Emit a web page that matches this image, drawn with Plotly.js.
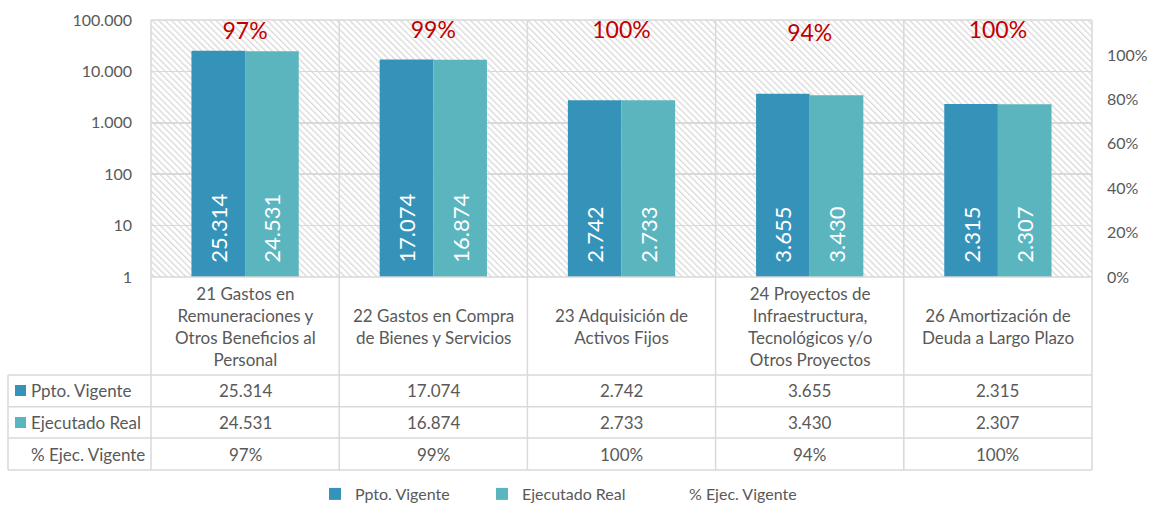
<!DOCTYPE html>
<html><head><meta charset="utf-8">
<script src="https://cdn.plot.ly/plotly-3.0.1.min.js"></script>
<style>html,body{margin:0;padding:0;background:#fff}#chart{width:1151px;height:506px}</style>
</head><body><div id="chart"></div>
<script>
// ---- data ----
const categories = [
  "21 Gastos en<br>Remuneraciones y<br>Otros Beneficios al<br>Personal",
  "22 Gastos en Compra<br>de Bienes y Servicios",
  "23 Adquisición de<br>Activos Fijos",
  "24 Proyectos de<br>Infraestructura,<br>Tecnológicos y/o<br>Otros Proyectos",
  "26 Amortización de<br>Deuda a Largo Plazo"
];
const pptoVigente   = [25314, 17074, 2742, 3655, 2315];
const ejecutadoReal = [24531, 16874, 2733, 3430, 2307];
const pctEjec       = [0.97, 0.99, 1.00, 0.94, 1.00];
const seriesNames   = ["Ppto. Vigente", "Ejecutado Real", "% Ejec. Vigente"];
const logTickVals   = [1, 10, 100, 1000, 10000, 100000];
const pctTickVals   = [0, 0.2, 0.4, 0.6, 0.8, 1.0];

// ---- style ----
const C1 = '#3593ba', C2 = '#5ab5bf', GRID = '#d9d9d9', TXT = '#595959', RED = '#c00000';
const FONT = 'Lato, "Open Sans", sans-serif';
const W = 1151, H = 506, ML = 151, MR = 59, MT = 20, MB = 229;
const PW = W - ML - MR, PH = H - MT - MB;
const py = p => (H - MB - p) / PH;   // pixel y -> paper y
const px = p => (p - ML) / PW;       // pixel x -> paper x

function fmt(v) { return String(v).replace(/\B(?=(\d{3})+(?!\d))/g, '.'); }
function pctFmt(v) { return Math.round(v * 100) + '%'; }
const pad = '\u00a0\u00a0';

const xIdx = categories.map((_, i) => i);

const traces = [
  { type: 'bar', name: seriesNames[0], x: xIdx, y: pptoVigente,
    marker: { color: C1, line: { width: 0 } },
    text: pptoVigente.map(v => pad + fmt(v)), textposition: 'inside', insidetextanchor: 'start',
    textangle: -90, insidetextfont: { color: '#ffffff', size: 22, family: FONT }, hoverinfo: 'skip' },
  { type: 'bar', name: seriesNames[1], x: xIdx, y: ejecutadoReal,
    marker: { color: C2, line: { width: 0 } },
    text: ejecutadoReal.map(v => pad + fmt(v)), textposition: 'inside', insidetextanchor: 'start',
    textangle: -90, insidetextfont: { color: '#ffffff', size: 22, family: FONT }, hoverinfo: 'skip' },
  { type: 'scatter', mode: 'lines', name: seriesNames[2], x: xIdx, y: pctEjec, yaxis: 'y3',
    line: { color: 'rgba(0,0,0,0)', width: 2 }, hoverinfo: 'skip' },
  { type: 'scatter', mode: 'text', showlegend: false, x: xIdx, y: pctEjec, yaxis: 'y3',
    text: pctEjec.map(pctFmt), textposition: 'middle center',
    textfont: { color: RED, size: 23, family: FONT }, cliponaxis: false, hoverinfo: 'skip' },
  { type: 'scatter', mode: 'none', x: [0], y: [0], yaxis: 'y2', showlegend: false, hoverinfo: 'skip' }
];

// ---- table / frame shapes ----
const line = { color: GRID, width: 1.5 };
const shapes = [];
shapes.push({ type: 'line', xref: 'paper', yref: 'paper', x0: 0, x1: 1, y0: 1, y1: 1, line, layer: 'above' });
shapes.push({ type: 'line', xref: 'paper', yref: 'paper', x0: 0, x1: 1, y0: 0, y1: 0, line, layer: 'above' });
for (let i = 0; i <= categories.length; i++) {
  const xp = i / categories.length;
  shapes.push({ type: 'line', xref: 'paper', yref: 'paper', x0: xp, x1: xp, y0: py(470), y1: 1, line, layer: 'above' });
}
[375, 406.7, 438, 470].forEach(p => shapes.push({ type: 'line', xref: 'paper', yref: 'paper',
  x0: px(8), x1: 1, y0: py(p), y1: py(p), line, layer: 'above' }));
shapes.push({ type: 'line', xref: 'paper', yref: 'paper', x0: px(8), x1: px(8), y0: py(375), y1: py(470), line, layer: 'above' });
// row legend keys
shapes.push({ type: 'rect', xref: 'paper', yref: 'paper', x0: px(15), x1: px(26), y0: py(396), y1: py(385), fillcolor: C1, line: { width: 0 } });
shapes.push({ type: 'rect', xref: 'paper', yref: 'paper', x0: px(15), x1: px(26), y0: py(428), y1: py(417), fillcolor: C2, line: { width: 0 } });

// ---- table annotations ----
const annotations = [];
const tf = { family: FONT, size: 17, color: TXT };
const cell = (x, xref, y, text, xanchor) => ({ xref, yref: 'paper', x, y: py(y), text, showarrow: false,
  xanchor: xanchor || 'center', yanchor: 'middle', font: tf, align: 'center' });
categories.forEach((c, i) => {
  annotations.push(cell(i, 'x', 326, c));
  annotations.push(cell(i, 'x', 390.8, fmt(pptoVigente[i])));
  annotations.push(cell(i, 'x', 422.3, fmt(ejecutadoReal[i])));
  annotations.push(cell(i, 'x', 454, pctFmt(pctEjec[i])));
});
[[390.8, seriesNames[0]], [422.3, seriesNames[1]], [454, seriesNames[2]]].forEach(([p, t]) =>
  annotations.push(cell(px(29), 'paper', p, t, 'left')));

// ---- hatch background ----
const hatchSvg = `<svg xmlns='http://www.w3.org/2000/svg' width='${PW}' height='${PH}'><defs><pattern id='p' width='4.5' height='4.5' patternUnits='userSpaceOnUse' patternTransform='rotate(-45)'><rect x='0' y='0' width='1.3' height='4.5' fill='#d9d9d9'/></pattern></defs><rect width='100%' height='100%' fill='url(#p)'/></svg>`;

const layout = {
  width: W, height: H,
  margin: { l: ML, r: MR, t: MT, b: MB, pad: 0, autoexpand: false },
  paper_bgcolor: '#ffffff', plot_bgcolor: '#ffffff',
  font: { family: FONT, color: TXT, size: 16 },
  separators: ',.',
  barmode: 'group', bargap: 0.43, bargroupgap: 0,
  hovermode: false,
  showlegend: true,
  legend: { orientation: 'h', x: px(315), xanchor: 'left', y: py(494), yanchor: 'middle',
    font: { family: FONT, size: 16, color: TXT }, entrywidth: 122, entrywidthmode: 'pixels',
    bgcolor: 'rgba(0,0,0,0)' },
  xaxis: { type: 'linear', range: [-0.5, categories.length - 0.5], showticklabels: false,
    showgrid: false, zeroline: false, showline: false, ticks: '' },
  yaxis: { type: 'log', range: [0, 5], tickvals: logTickVals, tickformat: ',.0f',
    showgrid: true, gridcolor: GRID, gridwidth: 1.5, zeroline: false, showline: false,
    ticks: '', ticklabelstandoff: 18, tickfont: { family: FONT, size: 16, color: TXT } },
  yaxis2: { overlaying: 'y', side: 'right', range: [0, 1.158], tickvals: pctTickVals, tickformat: '.0%',
    showgrid: false, zeroline: false, showline: false, ticks: '', ticklabelstandoff: 14,
    tickfont: { family: FONT, size: 16, color: TXT } },
  yaxis3: { overlaying: 'y', range: [-3.458, 1.215], visible: false },
  images: [{ source: 'data:image/svg+xml;charset=utf-8,' + encodeURIComponent(hatchSvg),
    xref: 'paper', yref: 'paper', x: 0, y: 1, sizex: 1, sizey: 1, sizing: 'stretch',
    xanchor: 'left', yanchor: 'top', layer: 'below' }],
  shapes, annotations
};

Plotly.newPlot('chart', traces, layout, { displayModeBar: false, staticPlot: true });
</script></body></html>
